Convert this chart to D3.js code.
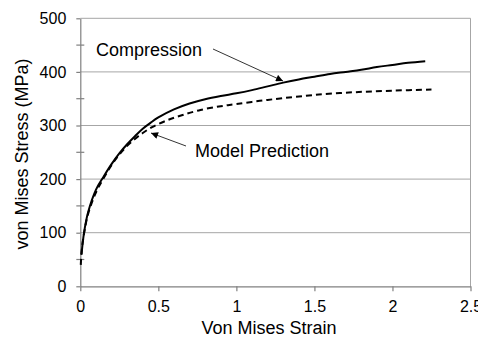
<!DOCTYPE html>
<html>
<head>
<meta charset="utf-8">
<script src="https://cdn.jsdelivr.net/npm/d3@7"></script>
<style>
  body { margin: 0; background: #fff; }
  text { font-family: "Liberation Sans", Arial, sans-serif; fill: #000; }
</style>
</head>
<body>
<script>
const width = 478;
const height = 337;

// compression test curve (strain, stress MPa)
const compStrain = [0.008, 0.024, 0.05, 0.1, 0.15, 0.2, 0.25, 0.3, 0.35, 0.4, 0.45, 0.5, 0.6, 0.7, 0.8, 0.9, 1.0, 1.1, 1.2, 1.3, 1.4, 1.5, 1.6, 1.7, 1.8, 1.9, 2.0, 2.1, 2.21];
const compStress = [60, 100, 138, 180, 205, 228, 248, 265, 280, 294, 305, 315, 330, 341, 349, 355, 360, 366, 373, 380, 386, 391, 396, 400, 404, 409, 413, 417, 420];

// model prediction curve
const modelStrain = [0.003, 0.01, 0.025, 0.05, 0.1, 0.15, 0.2, 0.25, 0.3, 0.35, 0.4, 0.46, 0.55, 0.65, 0.77, 0.9, 1.0, 1.15, 1.3, 1.5, 1.75, 2.0, 2.25];
const modelStress = [40, 70, 100, 135, 175, 202, 226, 246, 262, 275, 286, 297, 309, 319, 329, 336, 340, 346, 351, 357, 362, 365, 367];

const xTicks = [0, 0.5, 1, 1.5, 2, 2.5];
const xTickLabels = ["0", "0.5", "1", "1.5", "2", "2.5"];
const yTicks = [0, 100, 200, 300, 400, 500];
const yMinorTicks = [50, 150, 250, 350, 450];

const annotations = [
  {label: "Compression", tx: 96, ty: 56, x1: 213, y1: 49, x2: 283, y2: 81},
  {label: "Model Prediction", tx: 195, ty: 157, x1: 186, y1: 146, x2: 151, y2: 133}
];

const plotLeft = 80.3, plotRight = 470.5, plotTop = 18.3, plotBottom = 286.3;

const x = d3.scaleLinear().domain([0, 2.5]).range([plotLeft, plotRight]);
const y = d3.scaleLinear().domain([0, 500]).range([plotBottom, plotTop]);

const svg = d3.select("body")
    .append("svg")
    .attr("width", width)
    .attr("height", height);

const defs = svg.append("defs");
defs.append("marker")
    .attr("id", "head")
    .attr("viewBox", "0 0 10 10")
    .attr("refX", 10)
    .attr("refY", 5)
    .attr("markerWidth", 8)
    .attr("markerHeight", 7)
    .attr("markerUnits", "userSpaceOnUse")
    .attr("orient", "auto")
    .append("path")
    .attr("d", "M0,0 L10,5 L0,10 Z")
    .style("fill", "#000");

// gridlines
svg.selectAll("line.grid")
    .data(yTicks.slice(1))
    .enter()
    .append("line")
    .attr("class", "grid")
    .attr("x1", plotLeft)
    .attr("x2", plotRight)
    .attr("y1", d => y(d))
    .attr("y2", d => y(d))
    .style("stroke", "#a6a6a6")
    .style("stroke-width", 1);

// right border
svg.append("line")
    .attr("x1", plotRight).attr("x2", plotRight)
    .attr("y1", plotTop).attr("y2", plotBottom)
    .style("stroke", "#a6a6a6")
    .style("stroke-width", 1);

// axes
const xAxis = svg.append("g")
    .attr("transform", `translate(0,${plotBottom})`)
    .call(d3.axisBottom(x).tickValues(xTicks).tickFormat((d, i) => xTickLabels[i]).tickSize(5).tickPadding(9).tickSizeOuter(0));
const yAxis = svg.append("g")
    .attr("transform", `translate(${plotLeft},0)`)
    .call(d3.axisLeft(y).tickValues(yTicks).tickSize(4).tickPadding(10).tickSizeOuter(0));

[xAxis, yAxis].forEach(g => {
  g.select(".domain").style("stroke", "#808080").style("stroke-width", 1.2);
  g.selectAll(".tick line").style("stroke", "#808080").style("stroke-width", 1.2);
  g.selectAll(".tick text").style("font-size", "16px").style("font-family", "Liberation Sans, Arial, sans-serif").style("fill", "#000");
});

svg.selectAll("line.minor")
    .data(yMinorTicks)
    .enter()
    .append("line")
    .attr("class", "minor")
    .attr("x1", plotLeft - 4)
    .attr("x2", plotLeft + 4)
    .attr("y1", d => y(d))
    .attr("y2", d => y(d))
    .style("stroke", "#808080")
    .style("stroke-width", 1.2);

// curves
const line = d3.line()
    .x(d => x(d[0]))
    .y(d => y(d[1]))
    .curve(d3.curveCatmullRom.alpha(0.5));

svg.append("path")
    .datum(compStrain.map((s, i) => [s, compStress[i]]))
    .attr("d", line)
    .style("fill", "none")
    .style("stroke", "#000")
    .style("stroke-width", 2);

svg.append("path")
    .datum(modelStrain.map((s, i) => [s, modelStress[i]]))
    .attr("d", line)
    .style("fill", "none")
    .style("stroke", "#000")
    .style("stroke-width", 2)
    .style("stroke-dasharray", "6,4");

// annotations
annotations.forEach(a => {
  svg.append("line")
      .attr("x1", a.x1).attr("y1", a.y1)
      .attr("x2", a.x2).attr("y2", a.y2)
      .style("stroke", "#000")
      .style("stroke-width", 0.8)
      .attr("marker-end", "url(#head)");
  svg.append("text")
      .attr("x", a.tx)
      .attr("y", a.ty)
      .style("font-size", "18px")
      .text(a.label);
});

// axis titles
svg.append("text")
    .attr("x", 269)
    .attr("y", 334)
    .attr("text-anchor", "middle")
    .style("font-size", "18px")
    .text("Von Mises Strain");

svg.append("text")
    .attr("transform", "translate(28,154) rotate(-90)")
    .attr("text-anchor", "middle")
    .style("font-size", "18px")
    .text("von Mises Stress (MPa)");
</script>
</body>
</html>
